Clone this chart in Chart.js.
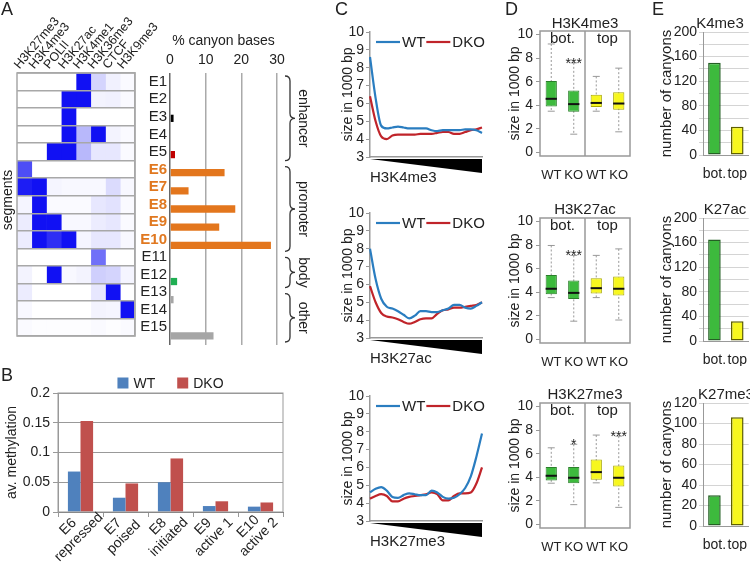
<!DOCTYPE html>
<html lang="en">
<head>
<meta charset="UTF-8">
<title>Canyon segments</title>
<script src="https://cdn.jsdelivr.net/npm/chart.js@4.4.1/dist/chart.umd.min.js"></script>
<style>
  body { margin: 0; background: #fff; }
  #fig { position: relative; width: 750px; height: 566px; overflow: hidden; background: #fff;
         font-family: 'Liberation Sans', Arial, sans-serif; color: #222; }
  #fig canvas { position: absolute; }
  .lbl { position: absolute; white-space: nowrap; line-height: 1; }
  .letter { font-size: 18px; }
  .ttl { font-size: 15px; transform: translateX(-50%); }
</style>
</head>
<body>
<div id="fig">
  <canvas id="heat" width="167" height="345" style="left:0;top:0"></canvas>
  <canvas id="bars" width="165" height="315" style="left:150px;top:30px"></canvas>
  <canvas id="meth" width="295" height="206" style="left:0;top:360px"></canvas>
  <canvas id="c1" width="152" height="190" style="left:338px;top:0"></canvas>
  <canvas id="c2" width="152" height="190" style="left:338px;top:181px"></canvas>
  <canvas id="c3" width="152" height="190" style="left:338px;top:364px"></canvas>
  <canvas id="d1" width="135" height="180" style="left:505px;top:0"></canvas>
  <canvas id="d2" width="135" height="180" style="left:505px;top:187px"></canvas>
  <canvas id="d3" width="135" height="180" style="left:505px;top:372px"></canvas>
  <canvas id="e1" width="110" height="180" style="left:640px;top:0"></canvas>
  <canvas id="e2" width="110" height="180" style="left:640px;top:186px"></canvas>
  <canvas id="e3" width="110" height="180" style="left:640px;top:371px"></canvas>

  <div class="lbl letter" style="left:1px;top:0">A</div>
  <div class="lbl letter" style="left:1px;top:366px">B</div>
  <div class="lbl letter" style="left:335px;top:0">C</div>
  <div class="lbl letter" style="left:505px;top:0">D</div>
  <div class="lbl letter" style="left:652px;top:0">E</div>
  <div class="lbl" style="left:7px;top:200px;font-size:14px;transform:translate(-50%,-50%) rotate(-90deg)">segments</div>
  <div class="lbl ttl" style="left:585px;top:15px">H3K4me3</div>
  <div class="lbl ttl" style="left:585px;top:201px">H3K27ac</div>
  <div class="lbl ttl" style="left:585px;top:386px">H3K27me3</div>
  <div class="lbl ttl" style="left:720px;top:15px">K4me3</div>
  <div class="lbl ttl" style="left:725px;top:201px">K27ac</div>
  <div class="lbl ttl" style="left:726px;top:386px">K27me3</div>
</div>

<script>
Chart.defaults.font.family = "'Liberation Sans', Arial, sans-serif";
Chart.defaults.color = '#222';
Chart.defaults.animation = false;
Chart.defaults.responsive = false;
Chart.defaults.plugins.legend.display = false;
Chart.defaults.plugins.tooltip.enabled = false;

// ---- panel A: chromatin states
var segs = ['E1', 'E2', 'E3', 'E4', 'E5', 'E6', 'E7', 'E8', 'E9', 'E10', 'E11', 'E12', 'E13', 'E14', 'E15'];
var marks = ['H3K27me3', 'H3K4me3', 'POLII', 'H3K27ac', 'H3K4me1', 'H3K36me3', 'CTCF', 'H3K9me3'];
var h3k27me3 = [0, 0, 0, 0, 0, 0.75, 0.95, 0.04, 0.08, 0.08, 0, 0.05, 0.08, 0.03, 0.02];
var h3k4me3  = [0, 0, 0, 0, 0, 0, 1, 1, 1, 1, 0, 0, 0, 0, 0.01];
var polII    = [0, 0, 0, 0, 1, 0, 0.04, 0.02, 1, 0.88, 0, 1, 0, 0, 0.01];
var h3k27ac  = [0, 1, 1, 1, 1, 0, 0.03, 0.02, 0.03, 1, 0, 0.03, 0, 0, 0.01];
var h3k4me1  = [1, 1, 0, 0.3, 0.3, 0, 0.03, 0.02, 0.03, 0.04, 0, 0.05, 0, 0, 0.01];
var h3k36me3 = [0.18, 0.05, 0, 1, 0.1, 0, 0.03, 0.1, 0.08, 0.1, 0.6, 0.2, 0.1, 0.05, 0.02];
var ctcf     = [0.06, 0.06, 0, 0.05, 0.1, 0, 0.15, 0.12, 0.1, 0.1, 0, 0.18, 1, 0.04, 0.01];
var h3k9me3  = [0.02, 0.02, 0, 0.02, 0.02, 0, 0.03, 0.02, 0.02, 0.03, 0, 0.04, 0, 1, 0.02];
var canyonPct = [0, 0, 1.0, 0, 1.4, 15.3, 5.2, 18.3, 13.8, 28.3, 0.2, 2.0, 1.0, 0, 12.2];
var segColors = ['#000', '#000', '#000', '#000', '#c00000', '#e3761d', '#e3761d', '#e3761d', '#e3761d', '#e3761d',
                 '#1fae52', '#1fae52', '#a6a6a6', '#a6a6a6', '#a6a6a6'];
var braceNames = ['enhancer', 'promoter', 'body', 'other'];
var braceFirst = [0, 5, 10, 12];
var braceLast = [4, 9, 11, 14];

// ---- panel B
var groups = [['E6', 'repressed'], ['E7', 'poised'], ['E8', 'initiated'], ['E9', 'active 1'], ['E10', 'active 2']];
var wtMeth = [0.068, 0.024, 0.050, 0.010, 0.009];
var dkoMeth = [0.153, 0.048, 0.090, 0.018, 0.016];

// ---- panel C
var bins = [1, 2, 3, 4, 5, 6, 7, 8, 9, 10, 11, 12, 13, 14, 15, 16, 17, 18, 19, 20, 21];
var k4Wt  = [8.6, 6.3, 4.75, 4.6, 4.65, 4.7, 4.65, 4.6, 4.6, 4.6, 4.6, 4.5, 4.45, 4.5, 4.5, 4.5, 4.5, 4.55, 4.55, 4.5, 4.35];
var k4Dko = [6.4, 5.0, 4.15, 4.0, 4.2, 4.25, 4.25, 4.25, 4.25, 4.3, 4.3, 4.3, 4.35, 4.4, 4.4, 4.3, 4.3, 4.4, 4.5, 4.55, 4.65];
var acWt  = [8.0, 6.3, 5.2, 4.75, 4.65, 4.5, 4.3, 4.1, 4.25, 4.5, 4.5, 4.45, 4.45, 4.55, 4.65, 4.85, 4.85, 4.7, 4.65, 4.8, 5.0];
var acDko = [5.9, 5.0, 4.4, 4.2, 4.15, 4.05, 3.9, 3.8, 3.9, 4.05, 4.1, 4.1, 4.35, 4.55, 4.6, 4.7, 4.7, 4.75, 4.8, 4.85, 5.0];
var k27Wt  = [4.6, 4.8, 4.9, 4.7, 4.35, 4.3, 4.45, 4.55, 4.5, 4.45, 4.45, 4.7, 4.6, 4.35, 4.25, 4.3, 4.5, 4.85, 5.5, 6.6, 7.9];
var k27Dko = [4.25, 4.4, 4.5, 4.4, 4.1, 4.1, 4.25, 4.35, 4.4, 4.45, 4.5, 4.6, 4.5, 4.15, 4.15, 4.4, 4.55, 4.55, 4.6, 5.1, 6.0];

// ---- panel D
var boxCats = ['WT', 'KO', 'WT', 'KO'];
var halves = ['bot.', 'top'];
var sizeTicks = [0, 2, 4, 6, 8, 10];
var k4Lo  = [3.5, 1.55, 3.5, 1.75];
var k4Q1  = [3.9, 3.45, 3.85, 3.62];
var k4Med = [4.55, 4.1, 4.2, 4.15];
var k4Q3  = [6.05, 5.25, 4.9, 5.1];
var k4Hi  = [9.2, 7.6, 6.45, 7.15];
var k4Stars = ['', '***', '', ''];
var acLo  = [3.55, 1.55, 3.55, 1.65];
var acQ1  = [3.84, 3.44, 3.9, 3.72];
var acMed = [4.3, 3.95, 4.35, 4.3];
var acQ3  = [5.47, 4.99, 5.19, 5.33];
var acHi  = [7.97, 7.13, 7.13, 7.68];
var acStars = ['', '***', '', ''];
var k27Lo  = [3.5, 1.68, 3.53, 1.45];
var k27Q1  = [3.73, 3.5, 3.79, 3.22];
var k27Med = [4.13, 3.96, 4.44, 3.96];
var k27Q3  = [4.87, 4.87, 5.5, 5.0];
var k27Hi  = [6.5, 6.8, 7.58, 7.49];
var k27Stars = ['', '*', '', '***'];

// ---- panel E
var k4Count = [150, 46];
var acCount = [165, 32];
var k27Count = [30, 106];

var green = '#3dba3d', greenEdge = '#2a7f2a';
var yellow = '#f7f71e', yellowEdge = '#a8a800';
var fontName = "'Liberation Sans', Arial, sans-serif";

function blue(v) {
    var c = Math.round(255 - 238 * v);
    return 'rgb(' + c + ',' + c + ',' + Math.round(255 - 12 * v) + ')';
}

function frame(color, width) {
    return {
        id: 'frame',
        afterDraw(chart) {
            var a = chart.chartArea, c = chart.ctx;
            c.save();
            c.strokeStyle = color;
            c.lineWidth = width;
            c.strokeRect(a.left, a.top, a.right - a.left, a.bottom - a.top);
            c.restore();
        }
    };
}

// heatmap as stacked horizontal bars, one stack piece per mark
new Chart(document.getElementById('heat'), {
    type: 'bar',
    data: {
        labels: segs,
        datasets: [h3k27me3, h3k4me3, polII, h3k27ac, h3k4me1, h3k36me3, ctcf, h3k9me3].map(function (col) {
            return { data: segs.map(function () { return 1; }), backgroundColor: col.map(blue),
                     borderWidth: 0, barPercentage: 1, categoryPercentage: 1 };
        })
    },
    options: {
        indexAxis: 'y',
        layout: { padding: { left: 17 } },
        scales: {
            x: {
                type: 'linear', position: 'top', stacked: true, min: 0, max: 8,
                grid: { display: false, drawTicks: false }, border: { display: false },
                afterBuildTicks: function (s) { s.ticks = marks.map(function (m, i) { return { value: i + 0.5 }; }); },
                afterFit: function (s) { s.height = 73; },
                ticks: { autoSkip: false, minRotation: 50, maxRotation: 50, padding: 1, labelOffset: 4, font: { size: 12.5 },
                         callback: function (v, i) { return marks[i]; } }
            },
            y: {
                position: 'right', stacked: true,
                afterFit: function (s) { s.width = 32; },
                grid: { color: '#a8a8a8', lineWidth: 1.5, drawTicks: false, z: 1 },
                border: { color: '#a8a8a8', width: 1.5, z: 1 },
                ticks: {
                    autoSkip: false, crossAlign: 'far', padding: 0,
                    color: function (c) { return c.index >= 5 && c.index <= 9 ? '#e07820' : '#222'; },
                    font: function (c) { return { size: 15, weight: c.index >= 5 && c.index <= 9 ? 'bold' : 'normal' }; }
                }
            }
        }
    },
    plugins: [frame('#a8a8a8', 1.5)]
});

var braces = {
    id: 'braces',
    afterDraw(chart) {
        var c = chart.ctx, y = chart.scales.y, a = chart.chartArea;
        var half = (y.getPixelForValue(1) - y.getPixelForValue(0)) / 2;
        var x0 = a.right + 8;
        c.save();
        c.strokeStyle = '#333';
        c.lineWidth = 1.3;
        c.fillStyle = '#222';
        c.font = '14px ' + fontName;
        c.textAlign = 'center';
        c.textBaseline = 'middle';
        braceNames.forEach(function (name, i) {
            var top = y.getPixelForValue(braceFirst[i]) - half + 3;
            var bot = y.getPixelForValue(braceLast[i]) + half - 3;
            var mid = (top + bot) / 2;
            c.beginPath();
            c.moveTo(x0, top);
            c.quadraticCurveTo(x0 + 5, top, x0 + 5, top + 5);
            c.lineTo(x0 + 5, mid - 5);
            c.quadraticCurveTo(x0 + 5, mid, x0 + 10, mid);
            c.quadraticCurveTo(x0 + 5, mid, x0 + 5, mid + 5);
            c.lineTo(x0 + 5, bot - 5);
            c.quadraticCurveTo(x0 + 5, bot, x0, bot);
            c.stroke();
            c.save();
            c.translate(x0 + 18, mid);
            c.rotate(Math.PI / 2);
            c.fillText(name, 0, 0);
            c.restore();
        });
        c.restore();
    }
};

new Chart(document.getElementById('bars'), {
    type: 'bar',
    data: { labels: segs, datasets: [{ data: canyonPct, backgroundColor: segColors, barPercentage: 0.4, categoryPercentage: 1 }] },
    options: {
        indexAxis: 'y',
        layout: { padding: { right: 38 } },
        scales: {
            x: {
                position: 'top', min: 0, max: 30,
                afterFit: function (s) { s.height = 43; },
                ticks: { stepSize: 10, padding: 4, font: { size: 14 } },
                grid: { color: function (c) { return c.tick && c.tick.value === 0 ? '#666' : '#aaa'; }, lineWidth: 1.5, drawTicks: false },
                border: { display: false },
                title: { display: true, text: '% canyon bases', font: { size: 14 }, padding: { top: 3, bottom: 0 } }
            },
            y: { afterFit: function (s) { s.width = 20; }, ticks: { display: false }, grid: { display: false }, border: { display: false } }
        }
    },
    plugins: [braces]
});

// ---- panel B
// square legend centred over the plot, and two-line slanted category labels
var squareKey = {
    id: 'squareKey',
    afterDraw(chart) {
        var a = chart.chartArea, c = chart.ctx;
        var y = a.top - 10, box = 11, gap = 22;
        c.save();
        c.font = '14px ' + fontName;
        c.textBaseline = 'middle';
        var sets = chart.data.datasets;
        var total = sets.reduce(function (s, ds) { return s + box + 5 + c.measureText(ds.label).width; }, 0) + gap * (sets.length - 1);
        var x = (a.left + a.right) / 2 - total / 2;
        sets.forEach(function (ds) {
            c.fillStyle = ds.backgroundColor;
            c.fillRect(x, y - box / 2, box, box);
            c.fillStyle = '#222';
            c.fillText(ds.label, x + box + 5, y + 1);
            x += box + 5 + c.measureText(ds.label).width + gap;
        });
        c.restore();
    }
};

var slantLabels = {
    id: 'slantLabels',
    afterDraw(chart) {
        var xs = chart.scales.x, c = chart.ctx, base = chart.chartArea.bottom;
        var d = Math.SQRT1_2 * 7.5;
        c.save();
        c.font = '14px ' + fontName;
        c.fillStyle = '#222';
        c.textAlign = 'center';
        c.textBaseline = 'middle';
        chart.data.labels.forEach(function (lines, i) {
            var cx = xs.getPixelForValue(i) - 7, cy = base + 20;
            lines.forEach(function (txt, k) {
                var s = k === 0 ? -1 : 1;
                c.save();
                c.translate(cx + s * d, cy + s * d);
                c.rotate(-Math.PI / 4);
                c.fillText(txt, 0, 0);
                c.restore();
            });
        });
        c.restore();
    }
};

new Chart(document.getElementById('meth'), {
    type: 'bar',
    data: {
        labels: groups,
        datasets: [
            { label: 'WT', data: wtMeth, backgroundColor: '#4f81bd' },
            { label: 'DKO', data: dkoMeth, backgroundColor: '#c0504d' }
        ]
    },
    options: {
        layout: { padding: { top: 33, right: 12 } },
        datasets: { bar: { categoryPercentage: 0.56, barPercentage: 1 } },
        scales: {
            x: {
                afterFit: function (s) { s.height = 54; },
                ticks: { display: false },
                grid: { drawOnChartArea: false, offset: true, tickLength: 5, color: '#999' },
                border: { color: '#777' }
            },
            y: {
                min: 0, max: 0.2,
                afterFit: function (s) { s.width = 58; },
                ticks: { stepSize: 0.05, font: { size: 14 }, padding: 3, callback: function (v) { return String(Number(v.toFixed(2))); } },
                grid: { color: '#999', tickLength: 5 },
                border: { color: '#999' },
                title: { display: true, text: 'av. methylation', font: { size: 14 }, padding: { top: 4, bottom: 0 } }
            }
        }
    },
    plugins: [frame('#999', 1), squareKey, slantLabels]
});

// ---- panel C
var wedge = {
    id: 'wedge',
    afterDraw(chart) {
        var a = chart.chartArea, c = chart.ctx;
        c.save();
        c.fillStyle = '#000';
        c.beginPath();
        c.moveTo(a.left, a.bottom + 2);
        c.lineTo(a.right, a.bottom + 2);
        c.lineTo(a.right, a.bottom + 16);
        c.closePath();
        c.fill();
        c.restore();
    }
};

var lineKey = {
    id: 'lineKey',
    afterDraw(chart) {
        var a = chart.chartArea, c = chart.ctx;
        var x = a.left + 6, y = a.top + 10;
        c.save();
        c.font = '15px ' + fontName;
        c.textBaseline = 'middle';
        chart.data.datasets.forEach(function (ds) {
            c.strokeStyle = ds.borderColor;
            c.lineWidth = 2.2;
            c.beginPath();
            c.moveTo(x, y);
            c.lineTo(x + 24, y);
            c.stroke();
            c.fillStyle = '#222';
            c.fillText(ds.label, x + 26, y + 1);
            x += 26 + c.measureText(ds.label).width + 1;
        });
        c.restore();
    }
};

function lineChart(id, mark, wt, dko) {
    new Chart(document.getElementById(id), {
        type: 'line',
        data: {
            labels: bins,
            datasets: [
                { label: 'WT', data: wt, borderColor: '#2a7dc0' },
                { label: 'DKO', data: dko, borderColor: '#c0242a' }
            ]
        },
        options: {
            layout: { padding: { top: 32, right: 8 } },
            elements: { point: { radius: 0 }, line: { borderWidth: 2.2, cubicInterpolationMode: 'monotone' } },
            scales: {
                x: {
                    afterFit: function (s) { s.height = 33; },
                    ticks: { display: false },
                    grid: { display: false },
                    border: { color: '#999', width: 1.5 },
                    title: { display: true, text: mark, align: 'start', font: { size: 15 }, padding: { top: 0, bottom: 3 } }
                },
                y: {
                    min: 3, max: 10,
                    afterFit: function (s) { s.width = 32; },
                    ticks: { stepSize: 1, autoSkip: false, font: { size: 14 }, padding: 2 },
                    grid: { drawOnChartArea: false, tickLength: 4, color: '#999' },
                    border: { color: '#999', width: 1.5 },
                    title: { display: true, text: 'size in 1000 bp', font: { size: 14 }, padding: { top: 2, bottom: 0 } }
                }
            }
        },
        plugins: [wedge, lineKey]
    });
}

lineChart('c1', 'H3K4me3', k4Wt, k4Dko);
lineChart('c2', 'H3K27ac', acWt, acDko);
lineChart('c3', 'H3K27me3', k27Wt, k27Dko);

// ---- panel D
function whiskers(lo, med, hi, stars) {
    return {
        id: 'whiskers',
        beforeDatasetsDraw(chart) {
            var x = chart.scales.x, y = chart.scales.y, c = chart.ctx;
            c.save();
            c.strokeStyle = '#999';
            c.lineWidth = 1;
            lo.forEach(function (v, i) {
                var px = x.getPixelForValue(i);
                c.setLineDash([2, 2]);
                c.beginPath();
                c.moveTo(px, y.getPixelForValue(hi[i]));
                c.lineTo(px, y.getPixelForValue(v));
                c.stroke();
                c.setLineDash([]);
                c.beginPath();
                [v, hi[i]].forEach(function (w) {
                    var py = y.getPixelForValue(w);
                    c.moveTo(px - 3.5, py);
                    c.lineTo(px + 3.5, py);
                });
                c.stroke();
            });
            c.restore();
        },
        afterDatasetsDraw(chart) {
            var x = chart.scales.x, y = chart.scales.y, c = chart.ctx, a = chart.chartArea;
            c.save();
            c.strokeStyle = '#111';
            c.lineWidth = 2;
            chart.getDatasetMeta(0).data.forEach(function (bar, i) {
                var py = y.getPixelForValue(med[i]);
                c.beginPath();
                c.moveTo(bar.x - bar.width / 2, py);
                c.lineTo(bar.x + bar.width / 2, py);
                c.stroke();
            });
            var mid = (x.getPixelForValue(1) + x.getPixelForValue(2)) / 2;
            c.strokeStyle = '#999';
            c.lineWidth = 1.5;
            c.beginPath();
            c.moveTo(mid, a.top);
            c.lineTo(mid, a.bottom);
            c.stroke();
            c.fillStyle = '#222';
            c.textAlign = 'center';
            c.font = '15px ' + fontName;
            c.textBaseline = 'middle';
            halves.forEach(function (h, k) {
                c.fillText(h, (x.getPixelForValue(2 * k) + x.getPixelForValue(2 * k + 1)) / 2, a.top + 8);
            });
            c.font = '14px ' + fontName;
            c.textBaseline = 'alphabetic';
            stars.forEach(function (s, i) {
                if (s) c.fillText(s, x.getPixelForValue(i), y.getPixelForValue(hi[i]) + 5);
            });
            c.restore();
        }
    };
}

function boxChart(id, lo, q1, med, q3, hi, stars) {
    new Chart(document.getElementById(id), {
        type: 'bar',
        data: {
            labels: boxCats,
            datasets: [{
                data: q1.map(function (v, i) { return [v, q3[i]]; }),
                backgroundColor: [green, green, yellow, yellow],
                borderColor: [greenEdge, greenEdge, yellowEdge, yellowEdge],
                borderWidth: 1, borderSkipped: false, barPercentage: 0.5, categoryPercentage: 1
            }]
        },
        options: {
            layout: { padding: { top: 31, right: 10 } },
            scales: {
                x: {
                    afterFit: function (s) { s.height = 24; },
                    grid: { display: false }, border: { display: false },
                    ticks: { autoSkip: false, minRotation: 0, maxRotation: 0, font: { size: 13 }, padding: 4 }
                },
                y: {
                    min: -0.3, max: 10.3,
                    afterFit: function (s) { s.width = 35; },
                    afterBuildTicks: function (s) { s.ticks = sizeTicks.map(function (v) { return { value: v }; }); },
                    ticks: { autoSkip: false, font: { size: 14 }, padding: 3 },
                    grid: { drawOnChartArea: false, tickLength: 4, color: '#999' },
                    border: { display: false },
                    title: { display: true, text: 'size in 1000 bp', font: { size: 14 }, padding: { top: 2, bottom: 0 } }
                }
            }
        },
        plugins: [frame('#999', 1.5), whiskers(lo, med, hi, stars)]
    });
}

boxChart('d1', k4Lo, k4Q1, k4Med, k4Q3, k4Hi, k4Stars);
boxChart('d2', acLo, acQ1, acMed, acQ3, acHi, acStars);
boxChart('d3', k27Lo, k27Q1, k27Med, k27Q3, k27Hi, k27Stars);

// ---- panel E
function countChart(id, counts, top, labelStep) {
    new Chart(document.getElementById(id), {
        type: 'bar',
        data: {
            labels: halves,
            datasets: [{
                data: counts, backgroundColor: [green, yellow], borderColor: ['#245f24', '#5f5f00'],
                borderWidth: 1.5, borderSkipped: false, barPercentage: 0.55, categoryPercentage: 1
            }]
        },
        options: {
            layout: { padding: { top: 32 } },
            scales: {
                x: {
                    afterFit: function (s) { s.height = 25; },
                    grid: { display: false }, border: { color: '#999' },
                    ticks: { autoSkip: false, minRotation: 0, maxRotation: 0, font: { size: 14 }, padding: 3 }
                },
                y: {
                    min: 0, max: top,
                    afterFit: function (s) { s.width = 63; },
                    ticks: { stepSize: 20, autoSkip: false, font: { size: 14 }, padding: 2,
                             callback: function (v) { return v % labelStep === 0 ? v : ''; } },
                    grid: { color: '#d4d4d4', tickLength: 4 },
                    border: { color: '#999' },
                    title: { display: true, text: 'number of canyons', font: { size: 15 }, padding: { top: 18, bottom: 0 } }
                }
            }
        }
    });
}

countChart('e1', k4Count, 200, 40);
countChart('e2', acCount, 200, 40);
countChart('e3', k27Count, 120, 20);
</script>
</body>
</html>
